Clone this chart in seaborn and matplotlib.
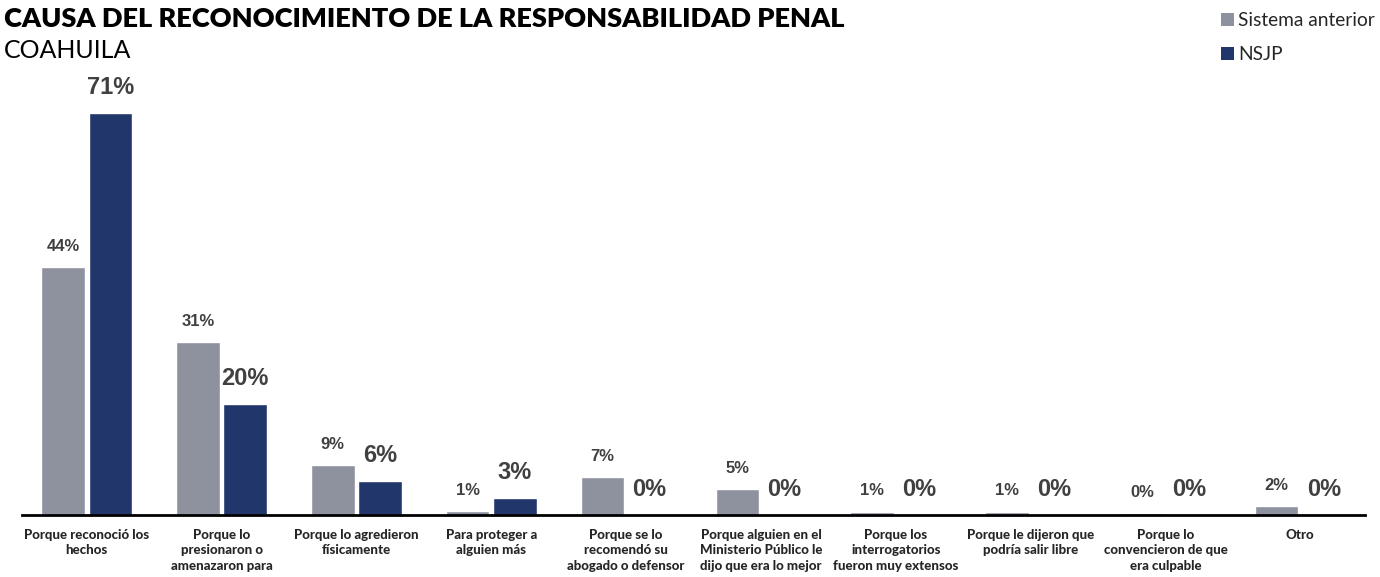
import matplotlib
matplotlib.use("Agg")
import matplotlib.pyplot as plt
import seaborn as sns
import pandas as pd
from matplotlib.patches import Patch

categories = [
    "Porque reconoció los\nhechos",
    "Porque lo\npresionaron o\namenazaron para",
    "Porque lo agredieron\nfísicamente",
    "Para proteger a\nalguien más",
    "Porque se lo\nrecomendó su\nabogado o defensor",
    "Porque alguien en el\nMinisterio Público le\ndijo que era lo mejor",
    "Porque los\ninterrogatorios\nfueron muy extensos",
    "Porque le dijeron que\npodría salir libre",
    "Porque lo\nconvencieron de que\nera culpable",
    "Otro",
]
series = ["Sistema anterior", "NSJP"]
sistema_anterior = [43.8, 30.6, 8.8, 0.7, 6.7, 4.6, 0.6, 0.6, 0.4, 1.6]
nsjp = [71.0, 19.6, 6.0, 3.0, 0.0, 0.0, 0.0, 0.0, 0.0, 0.0]
colors = ["#8e929f", "#21366b"]

df = pd.DataFrame({
    "cat": categories * 2,
    "serie": [series[0]] * len(categories) + [series[1]] * len(categories),
    "val": sistema_anterior + nsjp,
})

sns.set_style("white")
plt.rcParams["font.family"] = ["Lato", "DejaVu Sans"]

fig = plt.figure(figsize=(13.8, 5.77), dpi=100)
ax = fig.add_axes([22 / 1380, 62 / 577, 1343 / 1380, 435 / 577])

sns.barplot(data=df, x="cat", y="val", hue="serie", palette=colors,
            width=0.7, gap=0.08, ax=ax, legend=False, saturation=1)

fmt = lambda v: f"{round(v):.0f}%"
ax.bar_label(ax.containers[0], labels=[fmt(v) for v in sistema_anterior],
             padding=9.5, fontsize=12, fontweight="bold", color="#404040",
             family="Liberation Sans")
ax.bar_label(ax.containers[1], labels=[fmt(v) for v in nsjp],
             padding=10, fontsize=17, fontweight="bold", color="#404040",
             family="Liberation Sans")

ax.set_xlim(-0.48, 9.48)
ax.set_ylim(0, 76.9)
ax.set_xlabel("")
ax.set_ylabel("")
ax.set_yticks([])
for s in ["top", "right", "left"]:
    ax.spines[s].set_visible(False)
ax.spines["bottom"].set_color("black")
ax.spines["bottom"].set_linewidth(2)
ax.tick_params(axis="x", length=0, pad=10)
for t in ax.get_xticklabels():
    t.set_fontsize(9.5)
    t.set_fontweight("black")
    t.set_linespacing(1.35)
    t.set_verticalalignment("top")

fig.text(4 / 1380, 1 - 7 / 577, "CAUSA DEL RECONOCIMIENTO DE LA RESPONSABILIDAD PENAL",
         fontsize=19.5, fontweight="heavy", va="top", ha="left", color="black")
fig.text(4 / 1380, 1 - 39 / 577, "COAHUILA", fontsize=18, va="top", ha="left",
         color="black")

handles = [Patch(facecolor=c, edgecolor="none") for c in colors]
leg = fig.legend(handles, series, loc="upper right",
                 bbox_to_anchor=(1.0 + 12 / 1380, 1.0 + 5 / 577),
                 frameon=False, fontsize=13.8, handlelength=0.7, handleheight=0.7,
                 handletextpad=0.2, labelspacing=0.88)

fig.savefig("out.png", dpi=100)
